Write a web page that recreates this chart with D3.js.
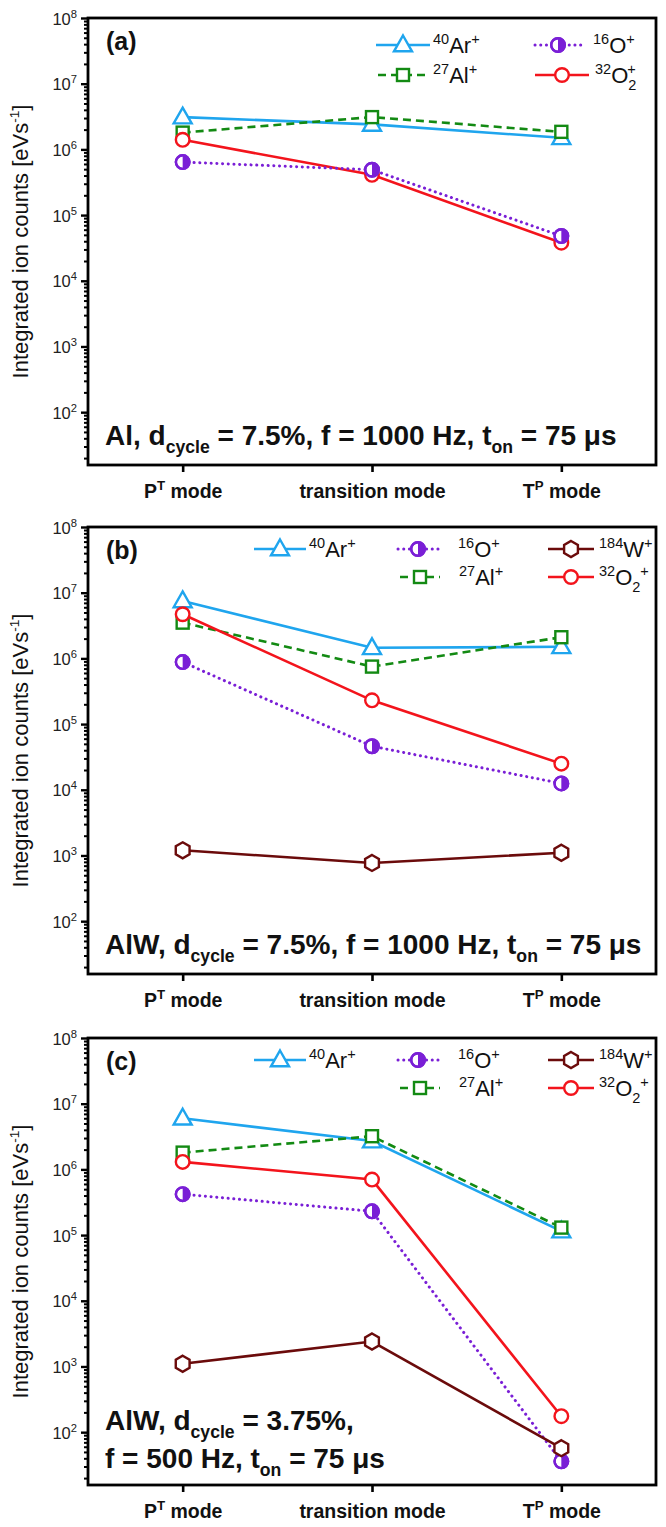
<!DOCTYPE html>
<html>
<head>
<meta charset="utf-8">
<script src="https://cdn.jsdelivr.net/npm/d3@7"></script>
<style>
  body { margin: 0; background: #fff; }
  svg { display: block; }
</style>
</head>
<body>
<div id="chart"></div>
<script>
// ion counts [eV s^-1]
const modes = ["PT", "transition", "TP"];
const modeLabels = [["P", "^T", " mode"], ["transition mode"], ["T", "^P", " mode"]];
const panelTags = ["(a)", "(b)", "(c)"];

// (a) Al target
const arA = [3.1e6, 2.4e6, 1.5e6];
const alA = [1.8e6, 3.1e6, 1.85e6];
const oA  = [6.4e5, 4.9e5, 4.8e4];
const o2A = [1.4e6, 4.1e5, 3.8e4];
// (b) AlW target, 7.5 %
const arB = [7.5e6, 1.45e6, 1.5e6];
const alB = [3.5e6, 7.5e5, 2.1e6];
const oB  = [8.8e5, 4.6e4, 1.25e4];
const o2B = [4.7e6, 2.3e5, 2.5e4];
const wB  = [1.2e3, 7.7e2, 1.1e3];
// (c) AlW target, 3.75 %
const arC = [6.0e6, 2.7e6, 1.15e5];
const alC = [1.8e6, 3.2e6, 1.3e5];
const oC  = [4.2e5, 2.3e5, 36];
const o2C = [1.3e6, 7.0e5, 175];
const wC  = [1.1e3, 2.4e3, 57];

const yTicks = [1e2, 1e3, 1e4, 1e5, 1e6, 1e7, 1e8];
const yMin = 15.7, yMax = 1e8;

const notes = [
  [["Al, d", "_cycle", " = 7.5%, f = 1000 Hz, t", "_on", " = 75 μs"]],
  [["AlW, d", "_cycle", " = 7.5%, f = 1000 Hz, t", "_on", " = 75 μs"]],
  [["AlW, d", "_cycle", " = 3.75%,"], ["f = 500 Hz, t", "_on", " = 75 μs"]]
];

const ions = {
  Ar: { label: ["^40", "Ar", "^+"], color: "#1fa5ee", dash: null, sym: "tri" },
  Al: { label: ["^27", "Al", "^+"], color: "#138a13", dash: "8,5", sym: "sq" },
  O2: { label: ["^32", "O", "_2", "^+"], color: "#f3141c", dash: null, sym: "circ" },
  O:  { label: ["^16", "O", "^+"], color: "#7a1fd6", dash: "0.1,5.6", sym: "half" },
  W:  { label: ["^184", "W", "^+"], color: "#6b0b0b", dash: null, sym: "hex" }
};

const panelData = [
  { Ar: arA, Al: alA, O2: o2A, O: oA },
  { Ar: arB, Al: alB, O2: o2B, O: oB, W: wB },
  { Ar: arC, Al: alC, O2: o2C, O: oC, W: wC }
];

const width = 666, height = 1527;
const left = 88, right = 656, plotH = 447;
const panelTops = [18, 527, 1038];
const font = "Arial, 'Liberation Sans', sans-serif";

// legend layout: marker x, half line length, label x, row
const legendA = [
  { ion: "Ar", mx: 403, half: 27, lx: 433, row: 0 },
  { ion: "Al", mx: 403, half: 25, lx: 433, row: 1 },
  { ion: "O",  mx: 558, half: 23, lx: 593, row: 0 },
  { ion: "O2", mx: 562, half: 27, lx: 595, row: 1, stack: true }
];
const legendBC = [
  { ion: "Ar", mx: 280, half: 26, lx: 309, row: 0 },
  { ion: "O",  mx: 418, half: 20, lx: 458, row: 0 },
  { ion: "W",  mx: 571, half: 23, lx: 599, row: 0 },
  { ion: "Al", mx: 420, half: 20, lx: 459, row: 1 },
  { ion: "O2", mx: 571, half: 23, lx: 599, row: 1 }
];

const svg = d3.select("#chart").append("svg")
  .attr("width", width)
  .attr("height", height)
  .attr("font-family", font);

// text with ^sup and _sub pieces
function rich(sel, segs, size, opt) {
  opt = opt || {};
  let cur = 0;
  segs.forEach(function(s) {
    let t = s, dx = 0;
    if (typeof s === "object") { t = s.t; dx = s.dx; }
    let off = 0, fs = size;
    if (t[0] === "^") { off = -size * (opt.supUp || 0.38); fs = size * (opt.small || 0.65); t = t.slice(1); }
    else if (t[0] === "_") { off = size * (opt.subDown || 0.3); fs = size * (opt.small || 0.65); t = t.slice(1); }
    sel.append("tspan")
      .attr("dy", off - cur)
      .attr("dx", dx || 0)
      .attr("font-size", fs)
      .text(t);
    cur = off;
  });
  return sel;
}

function marker(g, sym, color, x, y) {
  const m = g.append("g").attr("transform", `translate(${x},${y})`)
    .attr("stroke", color).attr("stroke-width", 2.4).attr("fill", "#fff");
  if (sym === "tri") m.append("path").attr("d", "M0,-9.5L9,6.3L-9,6.3Z").attr("stroke-linejoin", "miter");
  if (sym === "sq") m.append("rect").attr("x", -6).attr("y", -6).attr("width", 12).attr("height", 12);
  if (sym === "circ") m.append("circle").attr("r", 6.8);
  if (sym === "hex") m.append("path").attr("d", "M0,-8L6.9,-4L6.9,4L0,8L-6.9,4L-6.9,-4Z");
  if (sym === "half") {
    m.append("circle").attr("r", 6.8);
    m.append("path").attr("d", "M0,-6.8A6.8,6.8 0 0,1 0,6.8Z").attr("fill", color).attr("stroke", "none");
    m.append("circle").attr("r", 6.8).attr("fill", "none");
  }
}

function drawPanel(i) {
  const top = panelTops[i], bottom = top + plotH;
  const g = svg.append("g");

  const x = d3.scalePoint().domain(modes).range([left, right]).padding(0.5);
  const y = d3.scaleLog().domain([yMin, yMax]).range([bottom, top]);

  // minor log ticks
  const minor = [];
  for (let e = 1; e < 8; e++) {
    for (let k = 2; k <= 9; k++) {
      const v = k * Math.pow(10, e);
      if (v >= yMin && v <= yMax) minor.push(v);
    }
  }
  const yMinor = g.append("g").attr("transform", `translate(${left},0)`)
    .call(d3.axisLeft(y).tickValues(minor).tickSize(4).tickFormat(""));
  yMinor.select(".domain").remove();
  yMinor.selectAll("line").attr("stroke", "#000").attr("stroke-width", 2);

  const yAxis = g.append("g").attr("transform", `translate(${left},0)`)
    .call(d3.axisLeft(y).tickValues(yTicks).tickSize(7).tickPadding(4).tickFormat(""));
  yAxis.select(".domain").remove();
  yAxis.selectAll("line").attr("stroke", "#000").attr("stroke-width", 2.4);
  yAxis.selectAll(".tick text").each(function(d) {
    const t = d3.select(this).attr("dy", null).attr("y", 6)
      .attr("font-family", font).attr("fill", "#222");
    rich(t, ["10", "^" + Math.round(Math.log10(d))], 16.5, { small: 0.68, supUp: 0.42 });
  });
  yAxis.attr("font-size", 16.5).attr("font-family", font);

  const xAxis = g.append("g").attr("transform", `translate(0,${bottom})`)
    .call(d3.axisBottom(x).tickSize(7).tickPadding(0).tickFormat(""));
  xAxis.select(".domain").remove();
  xAxis.selectAll("line").attr("stroke", "#000").attr("stroke-width", 2.6);
  xAxis.selectAll(".tick text").each(function(d, j) {
    const t = d3.select(this).attr("dy", null).attr("y", 33)
      .attr("font-family", font).attr("font-weight", "bold").attr("fill", "#111");
    rich(t, modeLabels[j], 19.5, { small: 0.68, supUp: 0.4 });
  });
  xAxis.attr("font-size", 19.5).attr("font-family", font);

  // y title
  const yt = g.append("text")
    .attr("transform", `translate(28,${(top + bottom) / 2}) rotate(-90)`)
    .attr("text-anchor", "middle")
    .attr("font-size", 22)
    .attr("fill", "#111");
  rich(yt, ["Integrated ion counts [eVs", "^-1", "]"], 22, { small: 0.62, supUp: 0.4 });

  // series: line then symbols
  const line = d3.line().x(function(d) { return x(d.m); }).y(function(d) { return y(d.v); });
  const data = panelData[i];
  Object.keys(data).forEach(function(key) {
    const st = ions[key];
    const pts = data[key].map(function(v, j) { return { m: modes[j], v: v }; });
    g.append("path")
      .datum(pts)
      .attr("d", line)
      .attr("fill", "none")
      .attr("stroke", st.color)
      .attr("stroke-width", key === "O" ? 3 : 2.6)
      .attr("stroke-linecap", key === "O" ? "round" : "butt")
      .attr("stroke-dasharray", st.dash);
    pts.forEach(function(p) { marker(g, st.sym, st.color, x(p.m), y(p.v)); });
  });

  // frame
  g.append("rect")
    .attr("x", left).attr("y", top)
    .attr("width", right - left).attr("height", plotH)
    .attr("fill", "none").attr("stroke", "#000").attr("stroke-width", 2.8);

  // panel tag
  g.append("text")
    .attr("x", 106).attr("y", top + 32)
    .attr("font-size", 25).attr("font-weight", "bold").attr("fill", "#111")
    .text(panelTags[i]);

  // legend
  const leg = i === 0 ? legendA : legendBC;
  const rowY = i === 0 ? [top + 27, top + 57] : [top + 22, top + 50];
  leg.forEach(function(L) {
    const st = ions[L.ion];
    const ly = rowY[L.row];
    g.append("line")
      .attr("x1", L.mx - L.half).attr("x2", L.mx + L.half)
      .attr("y1", ly).attr("y2", ly)
      .attr("stroke", st.color)
      .attr("stroke-width", L.ion === "O" ? 3 : 2.6)
      .attr("stroke-linecap", L.ion === "O" ? "round" : "butt")
      .attr("stroke-dasharray", st.dash);
    marker(g, st.sym, st.color, L.mx, ly);
    let segs = st.label;
    if (L.stack) segs = ["^32", "O", "_2", { t: "^+", dx: -9 }];
    const t = g.append("text").attr("x", L.lx).attr("y", ly + 8)
      .attr("font-size", 22).attr("fill", "#111");
    rich(t, segs, 22, { small: 0.66, supUp: 0.4, subDown: 0.3 });
  });

  // condition note
  const lines = notes[i];
  lines.forEach(function(segs, k) {
    const base = lines.length === 1 ? bottom - 20 : bottom - 17 - (lines.length - 1 - k) * 38;
    const t = g.append("text").attr("x", 105).attr("y", base)
      .attr("font-size", 28).attr("font-weight", "bold").attr("fill", "#111");
    rich(t, segs, 28, { small: 0.63, subDown: 0.3 });
  });
}

[0, 1, 2].forEach(drawPanel);
</script>
</body>
</html>
